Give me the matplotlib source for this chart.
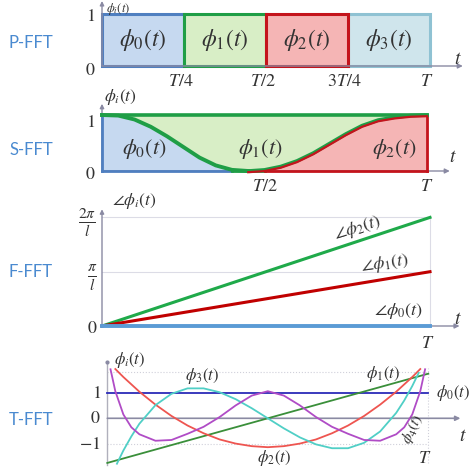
import matplotlib
matplotlib.use('Agg')
import matplotlib.pyplot as plt
import matplotlib.transforms as mtransforms
from matplotlib.patches import Rectangle

# ---- data ----
# P-FFT: four rectangular windows
p_edges = [0, 0.25, 0.5, 0.75, 1.0]
p_names = [r'$\phi_0(t)$', r'$\phi_1(t)$', r'$\phi_2(t)$', r'$\phi_3(t)$']
p_ticks = [0.25, 0.5, 0.75, 1.0]
p_ticklabels = [r'$T/4$', r'$T/2$', r'$3T/4$', r'$T$']

# S-FFT: smooth windows
s_t = [0, 0.05, 0.10, 0.15, 0.20, 0.25, 0.30, 0.35, 0.40, 0.45, 0.50,
       0.55, 0.60, 0.65, 0.70, 0.75, 0.80, 0.85, 0.90, 0.95, 1.0]
s_phi0 = [1.0, 0.99, 0.92, 0.79, 0.62, 0.43, 0.24, 0.10, 0.02, 0.0, 0.0,
          0.0, 0.0, 0.0, 0.0, 0.0, 0.0, 0.0, 0.0, 0.0, 0.0]
s_phi2 = [0.0, 0.0, 0.0, 0.0, 0.0, 0.0, 0.0, 0.0, 0.0, 0.0, 0.02,
          0.08, 0.18, 0.32, 0.49, 0.66, 0.81, 0.91, 0.96, 0.99, 1.0]
s_names = [r'$\phi_0(t)$', r'$\phi_1(t)$', r'$\phi_2(t)$']

# F-FFT: phases (in units of pi/l)
f_t = [0, 1]
f_phase0 = [0, 0]
f_phase1 = [0, 1]
f_phase2 = [0, 2]

# T-FFT: polynomial basis
t_lin = [0, 1]
t_phi0 = [1, 1]
t_phi1 = [-1.73, 1.73]
t2_t = [0.025, 0.05, 0.10, 0.15, 0.20, 0.25, 0.30, 0.35, 0.40, 0.45, 0.50,
        0.55, 0.60, 0.65, 0.70, 0.75, 0.80, 0.85, 0.90, 0.95, 0.975]
t_phi2 = [1.91, 1.60, 1.03, 0.53, 0.09, -0.28, -0.58, -0.82, -0.98, -1.08, -1.12,
          -1.08, -0.98, -0.82, -0.58, -0.28, 0.09, 0.53, 1.03, 1.60, 1.91]
t3_t = [0.03, 0.05, 0.075, 0.10, 0.15, 0.20, 0.25, 0.30, 0.35, 0.40, 0.45, 0.50,
        0.55, 0.60, 0.65, 0.70, 0.75, 0.80, 0.85, 0.90, 0.925, 0.95, 0.97]
t_phi3 = [-1.76, -1.25, -0.70, -0.21, 0.51, 0.95, 1.16, 1.16, 1.01, 0.74, 0.39, 0.0,
          -0.39, -0.74, -1.01, -1.16, -1.16, -0.95, -0.51, 0.21, 0.69, 1.25, 1.76]
t4_t = [0.01, 0.025, 0.05, 0.075, 0.10, 0.15, 0.20, 0.25, 0.30, 0.35, 0.40, 0.45, 0.50,
        0.55, 0.60, 0.65, 0.70, 0.75, 0.80, 0.85, 0.90, 0.925, 0.95, 0.975, 0.99]
t_phi4 = [1.9, 1.05, 0.15, -0.35, -0.62, -0.87, -0.84, -0.6, -0.33, 0.05, 0.5, 0.88, 1.05,
          0.88, 0.5, 0.05, -0.33, -0.6, -0.84, -0.87, -0.62, -0.35, 0.15, 1.05, 1.9]

# ---- style ----
plt.rcParams['mathtext.fontset'] = 'stix'
W, H = 472, 475
AXC = '#8a8aa3'
ROWC = '#4a8ad0'
TXT = '#333333'

fig = plt.figure(figsize=(W / 100, H / 100), dpi=100)


def panel(box, x_px, y_ref):
    # box in pixels (left, top, right, bottom); x_px: pixel of t=0 and t=1
    left, top, right, bottom = box
    ax = fig.add_axes([left / W, 1 - bottom / H, (right - left) / W, (bottom - top) / H])
    x0, x1 = x_px
    ax.set_xlim((left - x0) / (x1 - x0), (right - x0) / (x1 - x0))
    (va, pa), (vb, pb) = y_ref
    k = (vb - va) / (pb - pa)
    ax.set_ylim(va + (bottom - pa) * k, va + (top - pa) * k)
    ax.axis('off')
    return ax


def axes_arrows(ax, xend, ybot, ytop, lw=1.0):
    ax.annotate('', xy=(xend, 0), xytext=(0, 0),
                arrowprops=dict(arrowstyle='-|>', color=AXC, lw=lw, mutation_scale=7,
                                shrinkA=0, shrinkB=0))
    ax.annotate('', xy=(0, ytop), xytext=(0, ybot),
                arrowprops=dict(arrowstyle='-|>', color=AXC, lw=lw, mutation_scale=6,
                                shrinkA=0, shrinkB=0))


def row_label(text, ypx):
    fig.text(31 / W, 1 - ypx / H, text, color=ROWC, fontsize=12, family='Lato',
             ha='center', va='center')


# ---- P-FFT ----
ax = panel((92, 0, 470, 92), (102, 430), ((1, 14), (0, 66)))
axes_arrows(ax, 1.1, 0, 1.25)
fills = ['#c6d9f0', '#d8eec6', '#f5b5b5', '#cfe5ec']
edges = ['#4f7fc0', '#1f9e46', '#c4141c', '#8fc2d3']
for i in [0, 3, 1, 2]:
    ax.add_patch(Rectangle((p_edges[i], 0), p_edges[i + 1] - p_edges[i], 1,
                           facecolor=fills[i], edgecolor=edges[i], lw=2.2, zorder=2))
    ax.text((p_edges[i] + p_edges[i + 1]) / 2, 0.5, p_names[i], fontsize=17,
            ha='center', va='center', color=TXT, zorder=3)
for x, lab in zip(p_ticks, p_ticklabels):
    ax.text(x - 0.01, -0.28, lab, fontsize=13, ha='center', va='center', color=TXT)
ax.text(-0.02, 0.97, r'$1$', fontsize=13, ha='right', va='center', color=TXT)
ax.text(-0.02, -0.08, r'$0$', fontsize=13, ha='right', va='center', color=TXT)
ax.text(1.085, 0.15, r'$t$', fontsize=14, ha='center', va='center', color=TXT)
ax.text(0.012, 1.245, r'$\phi_i(t)$', fontsize=9, ha='left', va='top', color=TXT)
row_label('P-FFT', 43)

# ---- S-FFT ----
ax = panel((92, 88, 470, 195), (102, 427), ((1, 115), (0, 171)))
axes_arrows(ax, 1.07, 0, 1.2)
ax.add_patch(Rectangle((0, 0), 1, 1, facecolor='#d8eec6', edgecolor='none', zorder=1))
ax.fill_between(s_t, 0, s_phi0, facecolor='#c6d9f0', edgecolor='none', zorder=2)
ax.fill_between(s_t, 0, s_phi2, facecolor='#f5b5b5', edgecolor='none', zorder=2)
down = mtransforms.offset_copy(ax.transData, fig=fig, x=0, y=-1.2, units='dots')
ax.plot([0, 0], [0, 1], color='#4f7fc0', lw=2, zorder=3)
ax.plot([0, 0.4], [0, 0], color='#4f7fc0', lw=2, zorder=3)
ax.plot([0.4, 0.5], [0, 0], color='#1f9e46', lw=2, zorder=3)
ax.plot([0.5, 1], [0, 0], color='#c4141c', lw=2, zorder=3)
ax.plot([1, 1], [0, 1], color='#c4141c', lw=2, zorder=3)
ax.plot([0, 1], [1, 1], color='#1f9e46', lw=2.6, zorder=4)
ax.plot(s_t[:10], s_phi0[:10], color='#1f9e46', lw=2.8, zorder=4)
ax.plot(s_t[9:], s_phi2[9:], color='#1f9e46', lw=2.6, zorder=4)
ax.plot(s_t[9:], s_phi2[9:], color='#c4141c', lw=1.6, zorder=5, transform=down)
for x, lab in zip([0.13, 0.486, 0.9], s_names):
    ax.text(x, 0.39, lab, fontsize=16, ha='center', va='center', color=TXT, zorder=6)
ax.text(0.5, -0.27, r'$T/2$', fontsize=13, ha='center', va='center', color=TXT)
ax.text(1.0, -0.27, r'$T$', fontsize=13, ha='center', va='center', color=TXT)
ax.text(-0.02, 0.88, r'$1$', fontsize=13, ha='right', va='center', color=TXT)
ax.text(-0.02, -0.05, r'$0$', fontsize=13, ha='right', va='center', color=TXT)
ax.text(1.08, 0.25, r'$t$', fontsize=14, ha='center', va='center', color=TXT)
ax.text(0.005, 1.33, r'$\phi_i(t)$', fontsize=12.5, ha='left', va='center', color=TXT)
row_label('S-FFT', 150)

# ---- F-FFT ----
ax = panel((70, 195, 470, 345), (102, 430), ((0, 326), (1, 271.7)))
for yv in [1, 2]:
    ax.plot([0, 1], [yv, yv], color='#dcdce6', lw=0.8, zorder=1)
ax.plot([1, 1], [0, 2], color='#dcdce6', lw=0.8, zorder=1)
axes_arrows(ax, 1.09, 0, 2.15)
ax.plot(f_t, f_phase2, color='#1faa4a', lw=2.2, zorder=3)
ax.plot(f_t, f_phase1, color='#c00000', lw=2.2, zorder=3)
ax.plot(f_t, f_phase0, color='#5b9bd5', lw=2.8, zorder=3)
ax.text(0.78, 1.8, r'$\angle\phi_2(t)$', fontsize=13, ha='center', va='center',
        rotation=17, color=TXT)
ax.text(0.863, 1.15, r'$\angle\phi_1(t)$', fontsize=13, ha='center', va='center',
        rotation=8, color=TXT)
ax.text(0.905, 0.27, r'$\angle\phi_0(t)$', fontsize=13, ha='center', va='center',
        color=TXT)
ax.text(0.1, 2.3, r'$\angle\phi_i(t)$', fontsize=12.5, ha='center', va='center', color=TXT)
ax.text(-0.045, 1.9, r'$\frac{2\pi}{l}$', fontsize=16, ha='center', va='center', color=TXT)
ax.text(-0.03, 0.88, r'$\frac{\pi}{l}$', fontsize=16, ha='center', va='center', color=TXT)
ax.text(-0.03, -0.04, r'$0$', fontsize=13, ha='center', va='center', color=TXT)
ax.text(1.085, 0.14, r'$t$', fontsize=14, ha='center', va='center', color=TXT)
ax.text(0.994, -0.32, r'$T$', fontsize=13, ha='center', va='center', color=TXT)
row_label('F-FFT', 272)

# ---- T-FFT ----
ax = panel((70, 345, 472, 475), (107.3, 428.3), ((0, 418.3), (1, 392.5)))
ax.plot([0, 1], [-1, -1], color='#d0d0da', lw=0.8, ls=':', zorder=1)
ax.plot([0, 1], [1.78, 1.78], color='#d0d0da', lw=0.8, ls=':', zorder=1)
ax.plot([1, 1], [-1.75, 1.95], color='#d0d0da', lw=0.8, ls=':', zorder=1)
ax.annotate('', xy=(1.1, 0), xytext=(0, 0),
            arrowprops=dict(arrowstyle='-|>', color=AXC, lw=1.2, mutation_scale=7,
                            shrinkA=0, shrinkB=0))
ax.plot([0, 0], [-1.8, 2.15], color='#b0b0bc', lw=1.0, zorder=1)
ax.plot([0], [2.17], marker='o', ms=2, color=AXC)
ax.plot(t_lin, t_phi0, color='#2b2bb8', lw=1.3, zorder=3)
ax.plot(t_lin, t_phi1, color='#3a8f3a', lw=1.3, zorder=3)
ax.plot(t2_t, t_phi2, color='#ee5550', lw=1.3, zorder=3)
ax.plot(t3_t, t_phi3, color='#50cfc6', lw=1.3, zorder=3)
ax.plot(t4_t, t_phi4, color='#b04cc6', lw=1.3, zorder=3)
ax.text(0.02, 2.27, r'$\phi_i(t)$', fontsize=12, ha='left', va='center', color=TXT)
ax.text(0.295, 1.63, r'$\phi_3(t)$', fontsize=12, ha='center', va='center', color=TXT)
ax.text(0.858, 1.72, r'$\phi_1(t)$', fontsize=12, ha='center', va='center', color=TXT)
ax.text(1.078, 0.98, r'$\phi_0(t)$', fontsize=12, ha='center', va='center', color=TXT)
ax.text(0.95, -0.4, r'$\phi_4(t)$', fontsize=11, ha='center', va='center', rotation=65,
        color=TXT)
ax.text(0.52, -1.52, r'$\phi_2(t)$', fontsize=12, ha='center', va='center', color=TXT)
ax.text(0.99, -1.52, r'$T$', fontsize=13, ha='center', va='center', color=TXT)
ax.text(1.107, -0.65, r'$t$', fontsize=14, ha='center', va='center', color=TXT)
ax.text(-0.02, 1.0, r'$1$', fontsize=13, ha='right', va='center', color=TXT)
ax.text(-0.02, 0.0, r'$0$', fontsize=13, ha='right', va='center', color=TXT)
ax.text(-0.02, -1.0, r'$-1$', fontsize=13, ha='right', va='center', color=TXT)
row_label('T-FFT', 420)

fig.savefig('out.png', dpi=100)
